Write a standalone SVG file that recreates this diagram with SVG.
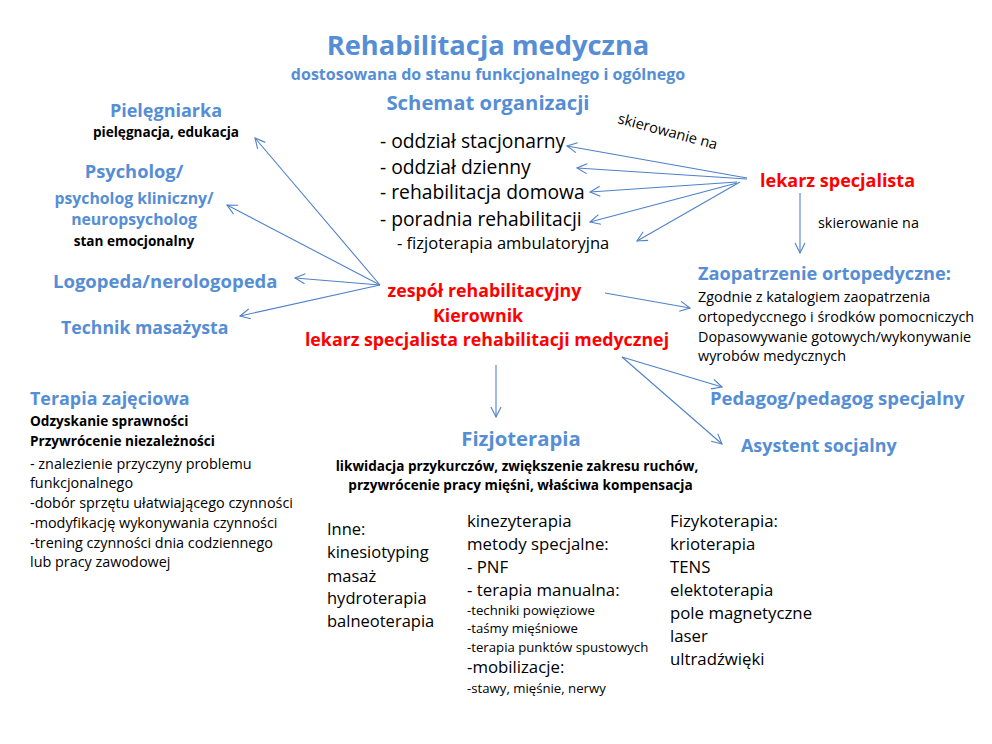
<svg xmlns="http://www.w3.org/2000/svg" width="992" height="744" viewBox="0 0 992 744">
<style>
text{font-family:"Open Sans","Noto Sans","Liberation Sans",sans-serif;}
.b{fill:#558ED5;font-weight:bold;}
.r{fill:#FF0000;font-weight:bold;}
.k{fill:#000;}
.kb{fill:#000;font-weight:bold;}
.m{text-anchor:middle;}
.c line{stroke:#4F81C8;stroke-width:1.1;fill:none;marker-end:url(#ah);}
</style>
<defs>
<marker id="ah" viewBox="0 0 12 12" refX="11" refY="6" markerWidth="12" markerHeight="12" markerUnits="userSpaceOnUse" orient="auto">
<path d="M1,1 L11,6 L1,11" fill="none" stroke="#4F81C8" stroke-width="1.1"/>
</marker>
</defs>
<rect width="992" height="744" fill="#fff"/>

<g id="title">
<text class="b m" x="488" y="55" font-size="27.3">Rehabilitacja medyczna</text>
<text class="b m" x="488" y="80" font-size="16">dostosowana do stanu funkcjonalnego i ogólnego</text>
<text class="b m" x="488" y="110" font-size="20.3">Schemat organizacji</text>
</g>

<g id="forms">
<text class="k" x="380" y="148" font-size="19.3">- oddział stacjonarny</text>
<text class="k" x="380" y="174" font-size="19.3">- oddział dzienny</text>
<text class="k" x="380" y="199" font-size="19.3">- rehabilitacja domowa</text>
<text class="k" x="380" y="226" font-size="19.3">- poradnia rehabilitacji</text>
<text class="k" x="397" y="249" font-size="16.5">- fizjoterapia ambulatoryjna</text>
</g>

<g id="skierowanie1">
<text class="k" x="617" y="123" font-size="14.6" transform="rotate(15 617 123)">skierowanie na</text>
</g>

<g id="lekarz-specjalista">
<text class="r" x="760" y="187" font-size="18">lekarz specjalista</text>
</g>

<g id="skierowanie2">
<text class="k" x="818" y="228" font-size="14.4">skierowanie na</text>
</g>

<g id="zaopatrzenie">
<text class="b" x="698" y="280" font-size="18.2">Zaopatrzenie ortopedyczne:</text>
<text class="k" x="698" y="302" font-size="14.4">Zgodnie z katalogiem zaopatrzenia</text>
<text class="k" x="698" y="322" font-size="14.4">ortopedyccnego i środków pomocniczych</text>
<text class="k" x="698" y="342" font-size="14.4">Dopasowywanie gotowych/wykonywanie</text>
<text class="k" x="698" y="361" font-size="14.4">wyrobów medycznych</text>
</g>

<g id="pedagog">
<text class="b" x="710" y="405" font-size="18.5">Pedagog/pedagog specjalny</text>
</g>
<g id="asystent">
<text class="b" x="741" y="452" font-size="17.9">Asystent socjalny</text>
</g>

<g id="zespol">
<text class="r m" x="484.5" y="297" font-size="17.8">zespół rehabilitacyjny</text>
<text class="r m" x="478" y="322" font-size="17.8">Kierownik</text>
<text class="r m" x="487" y="346" font-size="17.8">lekarz specjalista rehabilitacji medycznej</text>
</g>

<g id="pielegniarka">
<text class="b m" x="166" y="117" font-size="18">Pielęgniarka</text>
<text class="kb m" x="166" y="137" font-size="13.6">pielęgnacja, edukacja</text>
</g>

<g id="psycholog">
<text class="b m" x="134" y="178" font-size="18.3">Psycholog/</text>
<text class="b m" x="134" y="204" font-size="15.8">psycholog kliniczny/</text>
<text class="b m" x="134" y="225" font-size="15.8">neuropsycholog</text>
<text class="kb m" x="134" y="246" font-size="13.6">stan emocjonalny</text>
</g>

<g id="logopeda">
<text class="b" x="53" y="288" font-size="18.5">Logopeda/nerologopeda</text>
</g>
<g id="technik">
<text class="b" x="61" y="334" font-size="17.7">Technik masażysta</text>
</g>

<g id="terapia-zajeciowa">
<text class="b" x="30" y="405" font-size="17.9">Terapia zajęciowa</text>
<text class="kb" x="30" y="426" font-size="13.6">Odzyskanie sprawności</text>
<text class="kb" x="30" y="446" font-size="13.6">Przywrócenie niezależności</text>
<text class="k" x="30" y="469" font-size="14.4">- znalezienie przyczyny problemu</text>
<text class="k" x="30" y="488" font-size="14.4">funkcjonalnego</text>
<text class="k" x="30" y="508" font-size="14.4">-dobór sprzętu ułatwiającego czynności</text>
<text class="k" x="30" y="528" font-size="14.4">-modyfikację wykonywania czynności</text>
<text class="k" x="30" y="548" font-size="14.4">-trening czynności dnia codziennego</text>
<text class="k" x="30" y="567" font-size="14.4">lub pracy zawodowej</text>
</g>

<g id="fizjoterapia">
<text class="b m" x="521" y="446" font-size="20.3">Fizjoterapia</text>
<text class="kb m" x="517" y="471" font-size="13.6">likwidacja przykurczów, zwiększenie zakresu ruchów,</text>
<text class="kb m" x="520.5" y="490" font-size="13.6">przywrócenie pracy mięśni, właściwa kompensacja</text>
</g>

<g id="inne">
<text class="k" x="327" y="535" font-size="16.5">Inne:</text>
<text class="k" x="327" y="558" font-size="16.5">kinesiotyping</text>
<text class="k" x="327" y="582" font-size="16.5">masaż</text>
<text class="k" x="327" y="604" font-size="16.5">hydroterapia</text>
<text class="k" x="327" y="627" font-size="16.5">balneoterapia</text>
</g>

<g id="kinezyterapia">
<text class="k" x="467" y="527" font-size="16.8">kinezyterapia</text>
<text class="k" x="467" y="550" font-size="16.8">metody specjalne:</text>
<text class="k" x="467" y="573" font-size="16.8">- PNF</text>
<text class="k" x="467" y="596" font-size="16.8">- terapia manualna:</text>
<text class="k" x="467" y="615" font-size="13.2">-techniki powięziowe</text>
<text class="k" x="467" y="633" font-size="13.2">-taśmy mięśniowe</text>
<text class="k" x="467" y="652" font-size="13.2">-terapia punktów spustowych</text>
<text class="k" x="467" y="673" font-size="16.8">-mobilizacje:</text>
<text class="k" x="467" y="693" font-size="13.2">-stawy, mięśnie, nerwy</text>
</g>

<g id="fizykoterapia">
<text class="k" x="670" y="527" font-size="16.8">Fizykoterapia:</text>
<text class="k" x="670" y="550" font-size="16.8">krioterapia</text>
<text class="k" x="670" y="573" font-size="16.8">TENS</text>
<text class="k" x="670" y="596" font-size="16.8">elektoterapia</text>
<text class="k" x="670" y="619" font-size="16.8">pole magnetyczne</text>
<text class="k" x="670" y="642" font-size="16.8">laser</text>
<text class="k" x="670" y="665" font-size="16.8">ultradźwięki</text>
</g>

<g id="connectors" class="c">
<line x1="747" y1="178" x2="567" y2="146"/>
<line x1="747" y1="179" x2="577" y2="168"/>
<line x1="737" y1="182" x2="590" y2="192"/>
<line x1="737" y1="183" x2="590" y2="222"/>
<line x1="740" y1="182" x2="637" y2="241"/>
<line x1="800" y1="193" x2="800" y2="253"/>
<line x1="380" y1="285" x2="255" y2="138"/>
<line x1="380" y1="285" x2="227" y2="205"/>
<line x1="380" y1="285" x2="295" y2="278"/>
<line x1="380" y1="285" x2="240" y2="316"/>
<line x1="605" y1="293" x2="690" y2="308"/>
<line x1="496" y1="365" x2="496" y2="417"/>
<line x1="622" y1="357" x2="722" y2="387"/>
<line x1="622" y1="357" x2="722" y2="444"/>
</g>
</svg>
